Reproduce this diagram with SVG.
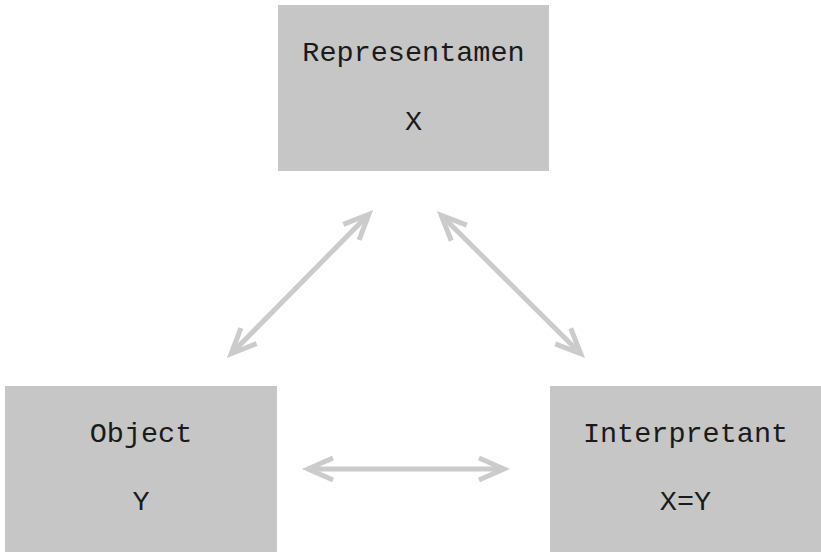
<svg xmlns="http://www.w3.org/2000/svg" width="821" height="552" viewBox="0 0 821 552">
<style>
.box{fill:#c6c6c6}
.t{font-family:"Liberation Mono","Courier New",monospace;font-size:28.5px;fill:#1a1a1a;text-anchor:middle}
.c{stroke:#cbcbcb;stroke-width:5;fill:none}
</style>
<defs>
<marker id="ah" markerUnits="userSpaceOnUse" markerWidth="40" markerHeight="40" viewBox="-30 -20 40 40" refX="0" refY="0" orient="auto-start-reverse" overflow="visible">
<path d="M-25,-11 L0,0 L-25,11" fill="none" stroke="#cbcbcb" stroke-width="5" stroke-linejoin="miter"/>
</marker>
</defs>
<rect width="821" height="552" fill="#ffffff"/>
<g id="representamen">
<rect class="box" x="278" y="5" width="271" height="166"/>
<text class="t" x="413.5" y="61">Representamen</text>
<text class="t" x="413.5" y="130">X</text>
</g>
<g id="object">
<rect class="box" x="5" y="386" width="272" height="166"/>
<text class="t" x="141" y="442">Object</text>
<text class="t" x="141" y="510">Y</text>
</g>
<g id="interpretant">
<rect class="box" x="550" y="386" width="271" height="166"/>
<text class="t" x="685.5" y="442">Interpretant</text>
<text class="t" x="685.5" y="510">X=Y</text>
</g>
<g id="connectors">
<line class="c" x1="231.2" y1="353.7" x2="368.8" y2="214.3" marker-start="url(#ah)" marker-end="url(#ah)"/>
<line class="c" x1="441.3" y1="215.3" x2="580.7" y2="353.7" marker-start="url(#ah)" marker-end="url(#ah)"/>
<line class="c" x1="308" y1="469" x2="504" y2="469" marker-start="url(#ah)" marker-end="url(#ah)"/>
</g>
</svg>
